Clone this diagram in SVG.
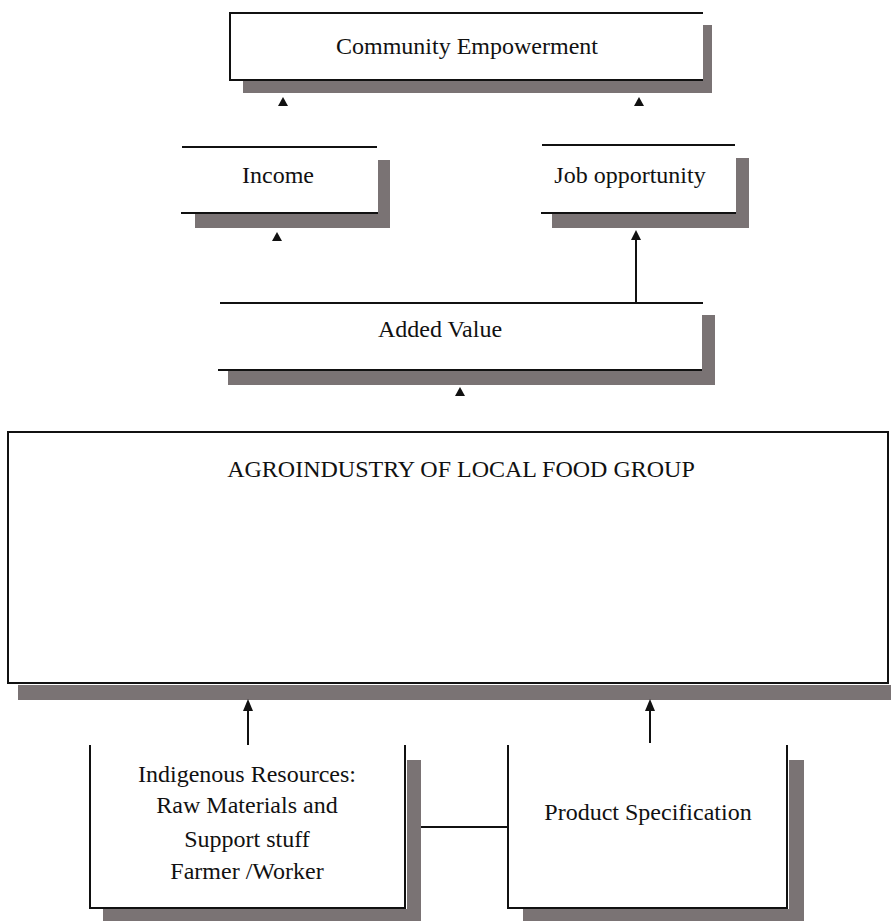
<svg xmlns="http://www.w3.org/2000/svg" width="894" height="921" viewBox="0 0 894 921">
<style>
.ln{stroke:#111;stroke-width:2;fill:none}
.sh{fill:#7a7374}
.t{font-family:"Liberation Serif","Times New Roman",serif;font-size:24px;fill:#111;text-anchor:middle}
.ah{fill:#111}
.cn{stroke:#111;stroke-width:2;fill:none}
</style>
<rect width="894" height="921" fill="#fff"/>
<g id="community-empowerment">
<rect class="sh" x="243" y="81" width="469" height="12"/>
<rect class="sh" x="703" y="25" width="9" height="68"/>
<path class="ln" d="M703,13 H230 V80 H703"/>
<text class="t" x="467" y="54">Community Empowerment</text>
</g>
<g id="income">
<rect class="sh" x="195" y="214" width="195" height="14"/>
<rect class="sh" x="378" y="160" width="12" height="68"/>
<path class="ln" d="M182,147 H377 M181,213 H378"/>
<text class="t" x="278" y="183">Income</text>
</g>
<g id="job-opportunity">
<rect class="sh" x="552" y="214" width="197" height="14"/>
<rect class="sh" x="736" y="158" width="13" height="70"/>
<path class="ln" d="M542,145 H735 M541,213 H736"/>
<text class="t" x="630" y="183">Job opportunity</text>
</g>
<g id="added-value">
<rect class="sh" x="228" y="371" width="487" height="14"/>
<rect class="sh" x="702" y="315" width="13" height="70"/>
<path class="ln" d="M220,303 H703 M218,370 H702"/>
<text class="t" x="440" y="337">Added Value</text>
</g>
<g id="agroindustry">
<rect class="sh" x="18" y="685" width="873" height="15"/>
<rect class="ln" x="8" y="432" width="880" height="251"/>
<text class="t" x="461" y="477">AGROINDUSTRY OF LOCAL FOOD GROUP</text>
</g>
<g id="indigenous-resources">
<rect class="sh" x="103" y="909" width="318" height="12"/>
<rect class="sh" x="407" y="760" width="14" height="161"/>
<path class="ln" d="M90,745 V908 H405 V745"/>
<text class="t" x="247" y="782">Indigenous Resources:</text>
<text class="t" x="247" y="813">Raw Materials and</text>
<text class="t" x="247" y="847">Support stuff</text>
<text class="t" x="247" y="879">Farmer /Worker</text>
</g>
<g id="product-specification">
<rect class="sh" x="523" y="909" width="281" height="12"/>
<rect class="sh" x="789" y="760" width="15" height="161"/>
<path class="ln" d="M508,745 V908 H787 V745"/>
<text class="t" x="648" y="820">Product Specification</text>
</g>
<g id="connectors">
<polygon class="ah" points="283,97 278,106 288,106"/>
<polygon class="ah" points="639,97 634,106 644,106"/>
<polygon class="ah" points="277,232 272,241 282,241"/>
<path class="cn" d="M636,303 V238"/>
<polygon class="ah" points="636,230 631,240 641,240"/>
<polygon class="ah" points="460,387 455,396 465,396"/>
<path class="cn" d="M248,745 V708"/>
<polygon class="ah" points="248,699 243,711 253,711"/>
<path class="cn" d="M650,743 V708"/>
<polygon class="ah" points="650,699 645,711 655,711"/>
<path class="cn" d="M421,827 H508"/>
</g>
</svg>
